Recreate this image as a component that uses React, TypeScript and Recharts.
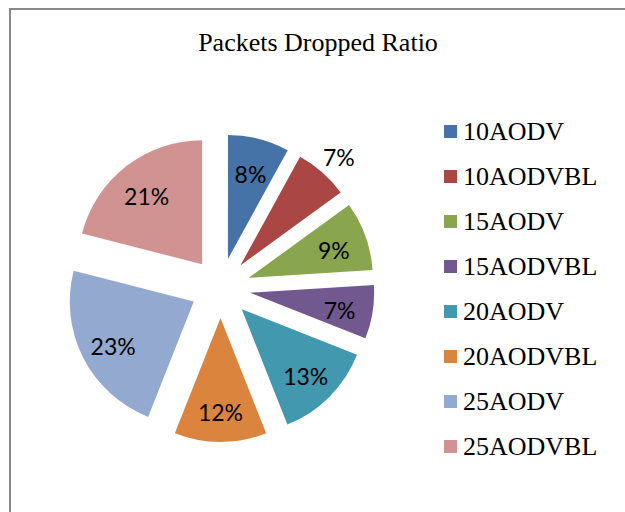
import React from 'react';
import { PieChart, Pie, Sector, Cell, Legend } from 'recharts';

const NAMES = ['10AODV', '10AODVBL', '15AODV', '15AODVBL', '20AODV', '20AODVBL', '25AODV', '25AODVBL'];
const RATIOS = [8, 7, 9, 7, 13, 12, 23, 21];
const COLORS = ['#4572A7', '#AA4643', '#89A54E', '#71588F', '#4198AF', '#DB843D', '#93A9CF', '#D19392'];
// slices whose label sits outside (too thin for the text)
const OUTSIDE_LABELS = ['10AODVBL'];

const data = NAMES.map((name, i) => ({ name, value: RATIOS[i] }));

const RAD = Math.PI / 180;
const EXPLODE = 30;
const SERIF = '"Liberation Serif", "Times New Roman", serif';

function ExplodedSector(props: any) {
  const { cx, cy, midAngle } = props;
  const dx = EXPLODE * Math.cos(-midAngle * RAD);
  const dy = EXPLODE * Math.sin(-midAngle * RAD);
  return <Sector {...props} cx={cx + dx} cy={cy + dy} />;
}

function renderLabel({ cx, cy, midAngle, outerRadius, percent, index }: any) {
  const outside = OUTSIDE_LABELS.includes(NAMES[index]);
  const r = outside ? EXPLODE + outerRadius + 25 : EXPLODE + outerRadius * 0.73;
  const x = cx + r * Math.cos(-midAngle * RAD);
  const y = cy + r * Math.sin(-midAngle * RAD) + 3;
  return (
    <text x={x} y={y} textAnchor="middle" dominantBaseline="central"
      fontFamily="Lato" fontSize={23} fill="#000">
      {`${Math.round(percent * 100)}%`}
    </text>
  );
}

function LegendList({ payload }: any) {
  return (
    <div>
      {(payload || []).map((p: any, i: number) => (
        <div key={p.value} style={{ height: 45, display: 'flex', alignItems: 'center' }}>
          <span style={{ width: 13, height: 13, background: p.color || COLORS[i], marginRight: 6, display: 'inline-block' }} />
          <span style={{ fontFamily: SERIF, fontSize: 26, color: '#000' }}>{p.value}</span>
        </div>
      ))}
    </div>
  );
}

export default function App() {
  return (
    <div style={{ position: 'absolute', left: 0, top: 0, width: 625, height: 512, background: '#fff', overflow: 'hidden' }}>
      <div style={{ position: 'absolute', left: 9, top: 8, width: 700, height: 600, borderLeft: '2px solid #888', borderTop: '2px solid #888' }} />
      <div style={{ position: 'absolute', left: 0, top: 28, width: 636, textAlign: 'center', fontFamily: SERIF, fontSize: 26, color: '#000' }}>
        Packets Dropped Ratio
      </div>
      <div style={{ position: 'absolute', left: 0, top: 0 }}>
        <PieChart width={625} height={512} margin={{ top: 0, right: 0, bottom: 0, left: 0 }}>
          <Pie data={data} dataKey="value" nameKey="name" cx={220.5} cy={288} outerRadius={124}
            startAngle={90} endAngle={-270} stroke="none" shape={ExplodedSector}
            label={renderLabel} labelLine={false} isAnimationActive={false}>
            {data.map((d, i) => <Cell key={d.name} fill={COLORS[i]} />)}
          </Pie>
          <Legend layout="vertical" align="right" verticalAlign="top" content={LegendList}
            wrapperStyle={{ left: 444, top: 109, width: 180 }} />
        </PieChart>
      </div>
    </div>
  );
}
